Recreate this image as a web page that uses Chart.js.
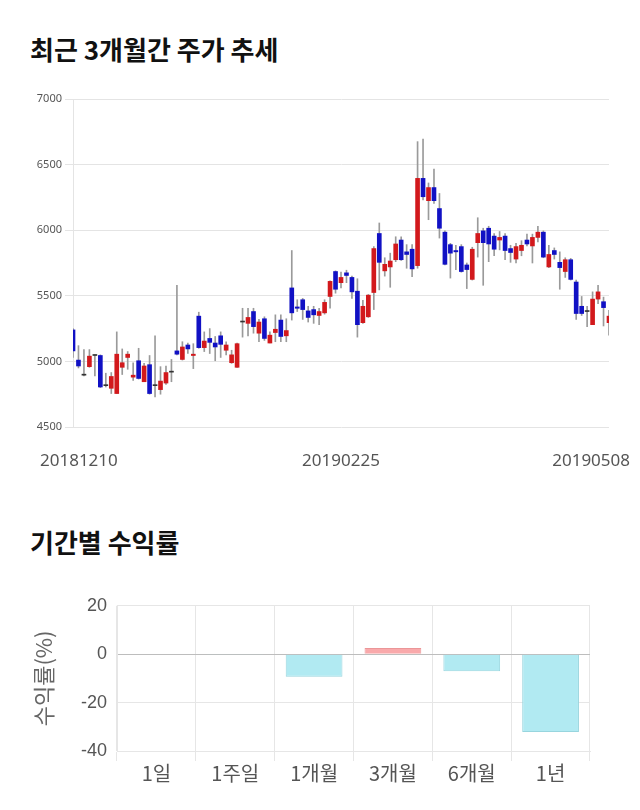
<!DOCTYPE html>
<html><head><meta charset="utf-8">
<script src="https://cdn.jsdelivr.net/npm/chart.js@4"></script>
<style>
html,body{margin:0;padding:0;background:#fff;}
body{width:640px;height:810px;position:relative;overflow:hidden;font-family:"Noto Sans CJK KR","Noto Sans",sans-serif;}
.title{position:absolute;left:30px;font-weight:bold;font-size:26px;color:#111;line-height:1;margin:0;}
#t1{top:36px} #t2{top:529px}
#c1{position:absolute;left:0;top:80px;}
#c2{position:absolute;left:0;top:585px;}
</style></head>
<body>
<div class="title" id="t1">최근 3개월간 주가 추세</div>
<div class="title" id="t2">기간별 수익률</div>
<canvas id="c1" width="640" height="400"></canvas>
<canvas id="c2" width="640" height="215"></canvas>
<script>
// ---- price data (candles) ----
const open  = [5240,5010,4895,4960,5045,5045,4815,4795,4755,4955,5030,4880,5005,4845,4975,4815,4785,4835,4918,5080,
               5015,5125,5045,5345,5105,5175,5140,5195,5085,4990,4955,5300,5290,5380,5215,5325,5140,5220,5315,5195,
               5560,5415,5470,5385,5395,5350,5370,5495,5685,5600,5675,5640,5535,5295,5340,5525,5975,5690,5720,5775,
               5925,5835,5855,5730,6395,6225,6325,6165,5985,5890,5845,5875,5735,5625,5905,5995,6015,5955,5925,5955,
               5860,5780,5845,5925,5880,5945,5985,5720,5845,5755,5685,5775,5605,5420,5380,5280,5475,5455,5295];
const high  = [5250,5120,5090,5090,5050,5050,4910,4915,5225,5095,5075,4990,5100,4985,5045,5195,4960,4965,5015,5580,
               5150,5140,5135,5375,5225,5250,5190,5225,5150,5085,5140,5405,5405,5405,5320,5340,5225,5355,5355,5325,
               5845,5470,5480,5420,5420,5405,5470,5615,5690,5680,5695,5650,5630,5465,5510,5875,6055,5790,5825,5950,
               5950,5890,5890,6675,6695,6360,6465,6280,5995,5900,5885,5890,5750,5870,6095,6015,6030,5975,5990,5975,
               5885,5900,5920,5970,5970,6030,5995,5885,5865,5835,5790,5785,5620,5495,5420,5530,5580,5490,5390];
const low   = [5030,4950,4890,4955,4890,4800,4805,4755,4755,4900,4940,4855,4865,4845,4750,4730,4750,4825,4845,5050,
               5010,5060,4945,5100,5075,5060,5005,5030,5050,4985,4955,5185,5195,5215,5150,5160,5140,5150,5150,5150,
               5315,5380,5320,5300,5290,5280,5360,5405,5520,5560,5600,5480,5185,5290,5335,5395,5545,5650,5565,5760,
               5770,5710,5645,5710,6230,6080,6205,5940,5735,5635,5700,5680,5555,5620,5795,5580,5760,5805,5850,5775,
               5755,5750,5805,5880,5750,5910,5790,5715,5780,5550,5640,5620,5320,5350,5265,5280,5440,5270,5200];
const close = [5080,4965,4895,5040,5045,4805,4815,4885,5055,4990,5055,4895,4870,4965,4755,4815,4850,4915,4918,5055,
               5110,5095,5055,5105,5155,5145,5110,5130,5125,5050,5135,5300,5335,5265,5300,5175,5200,5245,5190,5235,
               5370,5405,5395,5335,5355,5380,5450,5610,5550,5640,5655,5530,5280,5420,5505,5860,5755,5740,5765,5895,
               5775,5815,5705,6395,6255,6325,6225,6015,5740,5825,5835,5685,5700,5855,5975,5905,5895,5855,5945,5845,
               5830,5875,5885,5895,5945,5985,5795,5815,5815,5715,5775,5625,5365,5365,5380,5475,5530,5410,5345];
const dayIndex = open.map((v, i) => String(i));
const tickIndex = [0, 49, 98];
const tickText  = ['20181210', '20190225', '20190508'];
const priceTicks = [4500, 5000, 5500, 6000, 6500, 7000];

// ---- returns data ----
const periods = ['1일', '1주일', '1개월', '3개월', '6개월', '1년'];
const returns = [0, -0.3, -9.3, 2.6, -7.0, -32.2];
const returnTicks = [-40, -20, 0, 20];

const RED = '#d2191c', BLUE = '#1111c4', DOJI = '#333';

const xLabelPlugin = {
  id: 'xlab',
  afterDraw(chart) {
    const ctx = chart.ctx, xs = chart.scales.x;
    ctx.save();
    ctx.font = '17px "Noto Sans", sans-serif';
    ctx.fillStyle = '#555';
    ctx.textAlign = 'center';
    ctx.textBaseline = 'middle';
    tickIndex.forEach((idx, k) => {
      const t = tickText[k];
      const w = ctx.measureText(t).width;
      let x = xs.getPixelForValue(idx);
      x = Math.max(x, 40 + w / 2);
      x = Math.min(x, chart.width - 10 - w / 2);
      ctx.fillText(t, x, chart.chartArea.bottom + 34);
    });
    ctx.restore();
  }
};

new Chart(document.getElementById('c1'), {
  type: 'bar',
  data: {
    labels: dayIndex,
    datasets: [
      {
        data: low.map((l, i) => [l, high[i]]),
        backgroundColor: '#9a9a9a',
        barThickness: 1,
        grouped: false,
        order: 2
      },
      {
        data: open.map((o, i) => [Math.min(o, close[i]), Math.max(o, close[i])]),
        backgroundColor: c => {
          const i = c.dataIndex;
          return close[i] > open[i] ? RED : (close[i] < open[i] ? BLUE : DOJI);
        },
        barThickness: 4,
        minBarLength: 1,
        grouped: false,
        order: 1
      }
    ]
  },
  options: {
    responsive: false,
    animation: false,
    layout: { padding: { top: 19, right: 31, left: 0, bottom: 0 } },
    plugins: { legend: { display: false }, tooltip: { enabled: false } },
    scales: {
      x: {
        offset: false,
        grid: { display: false },
        border: { display: false },
        ticks: { display: false },
        afterFit: s => { s.height = 53; }
      },
      y: {
        min: 4500, max: 7000,
        afterBuildTicks: s => { s.ticks = priceTicks.map(v => ({ value: v })); },
        ticks: { font: { size: 11, family: '"Noto Sans", sans-serif' }, color: '#555', padding: 3, callback: v => String(v) },
        grid: { color: '#e4e4e4', tickLength: 8 },
        border: { color: '#e4e4e4' },
        afterFit: s => { s.width = 73; }
      }
    }
  },
  plugins: [xLabelPlugin]
});

new Chart(document.getElementById('c2'), {
  type: 'bar',
  data: {
    labels: periods,
    datasets: [{
      data: returns,
      backgroundColor: c => returns[c.dataIndex] >= 0 ? '#f9a9ab' : '#b1eaf2',
      borderColor: c => returns[c.dataIndex] >= 0 ? '#eb9698' : '#98d5de',
      borderWidth: 1
    }]
  },
  options: {
    responsive: false,
    animation: false,
    layout: { padding: { top: 20, right: 50, left: 0, bottom: 0 } },
    plugins: { legend: { display: false }, tooltip: { enabled: false } },
    scales: {
      x: {
        grid: { color: '#e6e6e6', tickLength: 10 },
        border: { color: '#e6e6e6' },
        ticks: { font: { size: 20, family: '"Noto Sans CJK KR", sans-serif' }, color: '#555', padding: 0 },
        afterFit: s => { s.height = 49; }
      },
      y: {
        min: -40, max: 20,
        afterBuildTicks: s => { s.ticks = returnTicks.map(v => ({ value: v })); },
        ticks: { font: { size: 18, family: '"Liberation Sans", sans-serif' }, color: '#555', padding: 10 },
        grid: { color: c => (c.tick && c.tick.value === 0) ? '#bdbdbd' : '#e6e6e6', drawTicks: false },
        border: { color: '#e6e6e6' },
        title: { display: true, text: '수익률(%)', color: '#666', font: { size: 22, family: '"Noto Sans CJK KR", sans-serif' }, padding: { top: 30, bottom: 0 } },
        afterFit: s => { s.width = 117; }
      }
    }
  }
});
</script>
</body></html>
